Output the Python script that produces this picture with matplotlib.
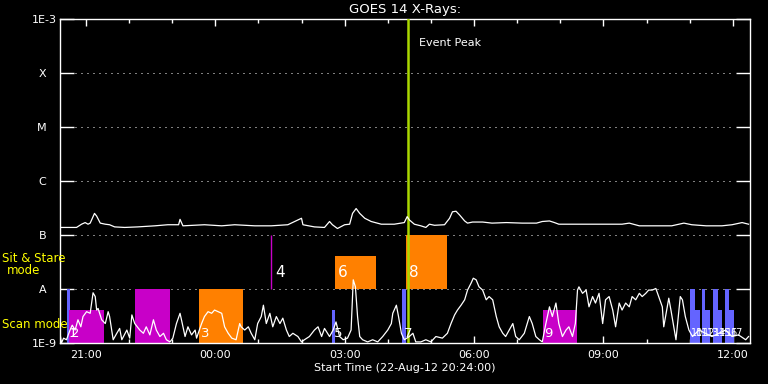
import matplotlib
matplotlib.use("Agg")
import matplotlib.pyplot as plt
import matplotlib.transforms as mtransforms
from matplotlib.ticker import FixedLocator, NullLocator

# ── Data (time = minutes after 20:24) ────────────────────────────────────
title_text = "GOES 14 X-Rays:"
xlabel_text = "Start Time (22-Aug-12 20:24:00)"

y_levels = [1e-9, 1e-8, 1e-7, 1e-6, 1e-5, 1e-4, 1e-3]
y_labels = ["1E-9", "A", "B", "C", "M", "X", "1E-3"]
grid_levels = [1e-8, 1e-7, 1e-6, 1e-5, 1e-4]

x_major = [36, 216, 396, 576, 756, 936]
x_labels = ["21:00", "00:00", "03:00", "06:00", "09:00", "12:00"]
x_minor = [36, 96, 156, 216, 276, 336, 396, 456, 516, 576, 636, 696, 756, 816, 876, 936]

# long channel (1-8 A), log10 W/m^2
long_t = [1, 23, 30, 35, 39, 42, 48, 51, 56, 63, 69, 76, 90, 108, 132, 150, 165, 167,
          171, 201, 225, 243, 271, 294, 317, 336, 338, 354, 368, 375, 379, 386, 396,
          403, 407, 412, 417, 424, 433, 447, 465, 479, 483, 486, 493, 502, 509, 514,
          521, 535, 542, 546, 551, 556, 563, 567, 574, 588, 601, 621, 643, 663, 671,
          681, 688, 694, 713, 736, 760, 782, 792, 806, 824, 851, 868, 879, 899, 921,
          935, 949, 958]
long_log = [-6.86, -6.86, -6.80, -6.77, -6.80, -6.78, -6.60, -6.65, -6.78, -6.80, -6.81,
            -6.85, -6.86, -6.85, -6.83, -6.81, -6.81, -6.71, -6.83, -6.81, -6.83, -6.81,
            -6.83, -6.83, -6.81, -6.69, -6.81, -6.85, -6.86, -6.75, -6.81, -6.88, -6.81,
            -6.80, -6.60, -6.51, -6.60, -6.69, -6.75, -6.80, -6.80, -6.77, -6.66, -6.72,
            -6.80, -6.83, -6.86, -6.80, -6.82, -6.81, -6.69, -6.57, -6.56, -6.63, -6.74,
            -6.78, -6.76, -6.76, -6.78, -6.77, -6.78, -6.78, -6.75, -6.74, -6.77, -6.80,
            -6.80, -6.80, -6.80, -6.80, -6.78, -6.83, -6.83, -6.83, -6.78, -6.81, -6.83,
            -6.83, -6.81, -6.77, -6.80]

# short channel (0.5-4 A), log10 W/m^2
short_t = [0, 2, 5, 9, 14, 17, 21, 25, 29, 32, 37, 42, 46, 49, 51, 53, 58, 63, 67, 69,
           74, 79, 83, 86, 93, 97, 100, 104, 111, 116, 120, 125, 130, 134, 139, 144, 148,
           153, 157, 162, 167, 169, 174, 178, 183, 188, 190, 197, 201, 206, 211, 215, 220,
           225, 229, 234, 239, 245, 250, 252, 257, 262, 266, 271, 275, 280, 283, 287, 292,
           296, 301, 306, 310, 315, 319, 324, 331, 336, 340, 347, 354, 359, 364, 368, 375,
           380, 384, 389, 394, 400, 405, 408, 411, 414, 417, 421, 428, 435, 442, 449, 456,
           461, 463, 468, 471, 475, 479, 486, 491, 495, 502, 509, 516, 523, 532, 539, 544,
           549, 553, 558, 563, 567, 572, 575, 579, 583, 588, 593, 597, 602, 607, 611, 616,
           620, 625, 630, 634, 639, 646, 653, 657, 662, 667, 671, 676, 681, 685, 690, 694,
           699, 704, 708, 713, 717, 720, 722, 727, 732, 736, 741, 745, 750, 755, 759, 764,
           769, 773, 778, 782, 787, 792, 796, 801, 806, 810, 815, 819, 824, 829, 833, 838,
           840, 847, 850, 857, 863, 866, 870, 875, 880, 889, 898, 907, 917, 926, 935, 944,
           954, 958]
short_log = [-8.82, -9.00, -8.91, -8.94, -8.76, -8.67, -8.76, -8.57, -8.70, -8.51, -8.42,
             -8.45, -8.07, -8.14, -8.39, -8.36, -8.57, -8.64, -8.42, -8.51, -8.94, -8.82,
             -8.73, -8.94, -8.76, -8.91, -8.48, -8.64, -8.76, -8.82, -8.70, -8.85, -8.57,
             -8.76, -8.88, -8.82, -8.94, -8.98, -8.91, -8.64, -8.45, -8.57, -8.88, -8.70,
             -8.85, -8.76, -8.91, -8.64, -8.51, -8.42, -8.45, -8.39, -8.42, -8.45, -8.70,
             -8.82, -8.91, -8.94, -8.64, -8.70, -8.76, -8.70, -8.82, -8.94, -8.64, -8.51,
             -8.30, -8.64, -8.45, -8.70, -8.51, -8.64, -8.54, -8.76, -8.88, -8.82, -8.88,
             -8.98, -8.94, -8.88, -8.76, -8.70, -8.88, -8.73, -8.88, -8.76, -8.61, -8.88,
             -8.94, -8.91, -8.76, -7.83, -7.96, -8.51, -8.88, -8.94, -8.98, -8.94, -8.98,
             -8.88, -8.76, -8.64, -8.45, -8.30, -8.51, -8.82, -8.94, -8.88, -8.82, -8.98,
             -8.98, -8.94, -8.98, -8.88, -8.91, -8.82, -8.64, -8.48, -8.39, -8.30, -8.20,
             -8.02, -7.89, -7.80, -7.83, -7.96, -8.02, -8.20, -8.14, -8.20, -8.51, -8.70,
             -8.82, -8.88, -8.76, -8.64, -8.88, -8.94, -8.82, -8.51, -8.64, -8.88, -8.94,
             -8.98, -8.64, -8.33, -8.51, -8.26, -8.64, -8.88, -8.76, -8.70, -8.88, -8.64,
             -8.02, -7.96, -8.08, -8.02, -8.33, -8.14, -8.26, -8.08, -8.64, -8.20, -8.14,
             -8.39, -8.70, -8.26, -8.39, -8.26, -8.33, -8.14, -8.20, -8.08, -8.14, -8.08,
             -8.02, -8.02, -7.99, -8.14, -8.33, -8.70, -8.17, -8.39, -8.94, -8.14, -8.20,
             -8.51, -8.76, -8.88, -8.76, -8.82, -8.88, -8.82, -8.76, -8.88, -8.85, -8.94,
             -8.88]

# observation bars
bar_start = [10, 13, 104, 194, 293, 379, 382, 476, 481, 672, 876, 883, 893, 898, 908, 915, 925, 931]
bar_end = [14, 61, 153, 254, 293, 383, 439, 481, 538, 719, 883, 890, 898, 904, 915, 921, 931, 938]
bar_mode = ["scan", "scan", "scan", "scan", "sit", "scan", "sit", "scan", "sit", "scan",
            "scan", "scan", "scan", "scan", "scan", "scan", "scan", "scan"]
bar_top = [1e-8, 4e-9, 1e-8, 1e-8, 1e-7, 4e-9, 4e-8, 1e-8, 1e-7, 4e-9,
           1e-8, 4e-9, 1e-8, 4e-9, 1e-8, 4e-9, 1e-8, 4e-9]
bar_color = ["#6464ff", "#c800c8", "#c800c8", "#ff8000", "#c800c8", "#6464ff", "#ff8000",
             "#6464ff", "#ff8000", "#c800c8", "#6464ff", "#6464ff", "#6464ff", "#6464ff",
             "#6464ff", "#6464ff", "#6464ff", "#6464ff"]
bar_label = ["1", "2", "", "3", "4", "5", "6", "7", "8", "9",
             "10", "11", "12", "13", "14", "15", "16", "17"]

event_peak = 484

# ── Figure ────────────────────────────────────────────────────────────
plt.rcParams["font.family"] = "DejaVu Sans"
fig = plt.figure(figsize=(7.68, 3.84), dpi=100, facecolor="black")
ax = fig.add_axes([60 / 768, 1 - 343 / 384, 690 / 768, 324 / 384], facecolor="black")
ax.set_yscale("log")
ax.set_xlim(0, 960)
ax.set_ylim(1e-9, 1e-3)

# bars and their numbers
for s, e, m, top, c, lab in zip(bar_start, bar_end, bar_mode, bar_top, bar_color, bar_label):
    base = 1e-9 if m == "scan" else 1e-8
    if e == s:
        ax.vlines(s, base, top, color=c, lw=1, zorder=2)
    else:
        ax.bar(s, top - base, width=e - s, bottom=base, align="edge",
               color=c, linewidth=0, zorder=2)
    if lab:
        if m == "scan":
            size = 7 if s > 850 else 9.5
            ax.text(s + 2, 10 ** -8.82, lab, color="white", fontsize=size,
                    va="center", ha="left", zorder=5)
        else:
            off = 5 if e > s else 6
            ax.text(s + off, 10 ** -7.69, lab, color="white", fontsize=11,
                    va="center", ha="left", zorder=5)

ax.axvline(event_peak, color="#aad800", lw=1.8, zorder=3)

ax.plot(long_t, [10 ** v for v in long_log], color="white", lw=0.9, zorder=4)
ax.plot(short_t, [10 ** v for v in short_log], color="white", lw=0.9, zorder=4)

for lv in grid_levels:
    ax.axhline(lv, xmin=0.022, xmax=0.978, color="white", lw=0.72,
               linestyle=(0, (1, 5)), zorder=1)

trans = mtransforms.blended_transform_factory(ax.transData, ax.transAxes)
ax.text(event_peak + 15, 0.926, "Event Peak", transform=trans, color="white",
        fontsize=8, va="center", ha="left")

# axes styling
for sp in ax.spines.values():
    sp.set_color("white")
    sp.set_linewidth(1)

ax.yaxis.set_major_locator(FixedLocator(y_levels))
ax.yaxis.set_minor_locator(NullLocator())
ax.set_yticklabels([lab if lab.startswith("1E") else lab + "   " for lab in y_labels])
ax.tick_params(axis="y", which="major", direction="in", length=10, width=1,
               colors="white", left=True, right=True, labelsize=8, pad=2)

ax.xaxis.set_major_locator(FixedLocator(x_major))
ax.xaxis.set_minor_locator(FixedLocator(x_minor))
ax.set_xticklabels(x_labels)
ax.tick_params(axis="x", which="major", direction="in", length=5, width=1,
               colors="white", top=True, bottom=True, labelsize=8, pad=5)
ax.tick_params(axis="x", which="minor", direction="in", length=3, width=1,
               colors="white", top=True, bottom=True)

fig.text(405 / 768, 1 - 10 / 384, title_text, color="white", fontsize=9.5,
         ha="center", va="center")
fig.text(405 / 768, 1 - 368 / 384, xlabel_text, color="white", fontsize=8,
         ha="center", va="center")
fig.text(2 / 768, 1 - 259 / 384, "Sit & Stare", color="#ffff00", fontsize=8.5,
         ha="left", va="center")
fig.text(24 / 768, 1 - 271 / 384, "mode", color="#ffff00", fontsize=8.5,
         ha="center", va="center")
fig.text(2 / 768, 1 - 324 / 384, "Scan mode", color="#ffff00", fontsize=8.5,
         ha="left", va="center")

fig.savefig("out.png", dpi=100, facecolor="black")
